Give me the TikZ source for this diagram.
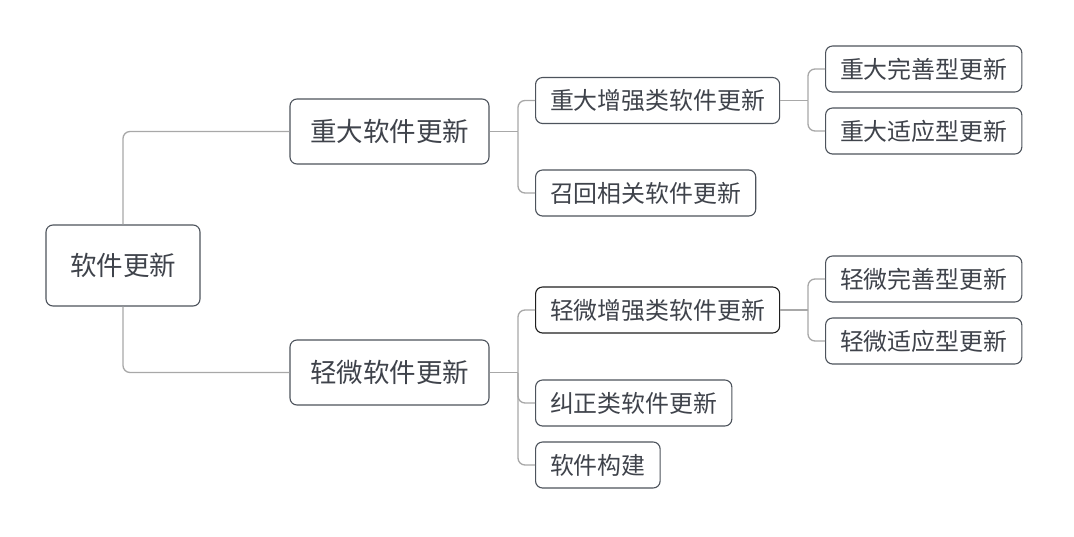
\documentclass[tikz,border=0pt]{standalone}
\usepackage{fontspec}
\setmainfont{Noto Sans CJK SC}
\definecolor{boxline}{HTML}{4D535C}
\definecolor{boxtext}{HTML}{3F434B}
\definecolor{linkgray}{HTML}{A8A8A8}
\tikzset{
	topic/.style={draw=boxline, line width=1.1pt, rounded corners=7pt, text=boxtext, align=center, inner sep=0pt},
	rootbox/.style={topic, minimum width=154pt, minimum height=81pt, font=\fontsize{26.5}{30}\selectfont},
	mainbox/.style={topic, minimum width=199pt, minimum height=65pt, font=\fontsize{26.5}{30}\selectfont},
	subbox/.style={topic, minimum height=46pt, inner xsep=14.5pt, font=\fontsize{23.9}{28}\selectfont},
	link/.style={draw=linkgray, line width=1.3pt, rounded corners=7pt}
}
\begin{document}
\begin{tikzpicture}[x=1pt, y=-1pt]
			% Canvas
			\useasboundingbox[fill=white] (0,0) rectangle (1074,536);
			\def\midx{518}
			\def\rightx{808}

			% Topics
			\node[rootbox] (root) at (123,265.5) {软件更新};
			\node[mainbox] (major) at (389.5,131.5) {重大软件更新};
			\node[mainbox] (minor) at (389.5,372.5) {轻微软件更新};

			\node[subbox, anchor=west] (majorEnh) at (535,100.5) {重大增强类软件更新};
			\node[subbox, anchor=west] (recall) at (535,193) {召回相关软件更新};
			\node[subbox, anchor=west] (majorPerf) at (825,69) {重大完善型更新};
			\node[subbox, anchor=west] (majorAdapt) at (825,131) {重大适应型更新};

			\node[subbox, anchor=west, draw=black!88] (minorEnh) at (535,310) {轻微增强类软件更新};
			\node[subbox, anchor=west] (fix) at (535,403) {纠正类软件更新};
			\node[subbox, anchor=west] (build) at (535,465) {软件构建};
			\node[subbox, anchor=west] (minorPerf) at (825,279) {轻微完善型更新};
			\node[subbox, anchor=west] (minorAdapt) at (825,341) {轻微适应型更新};

			% Junctions
			\coordinate (majorJ) at (\midx,131.5);
			\coordinate (minorJ) at (\midx,372.5);
			\coordinate (majorEnhJ) at (\rightx,100.5);
			\coordinate (minorEnhJ) at (\rightx,310);

			% Links
			\draw[link] (root.north) |- (major.west);
			\draw[link] (root.south) |- (minor.west);

			\draw[link] (major.east) -- (majorJ);
			\draw[link] (majorJ) |- (majorEnh.west);
			\draw[link] (majorJ) |- (recall.west);
			\draw[link] (majorEnh.east) -- (majorEnhJ);
			\draw[link] (majorEnhJ) |- (majorPerf.west);
			\draw[link] (majorEnhJ) |- (majorAdapt.west);

			\draw[link] (minor.east) -- (minorJ);
			\draw[link] (minorJ) |- (minorEnh.west);
			\draw[link] (minorJ) |- (fix.west);
			\draw[link] (minorJ) |- (build.west);
			\draw[link] (minorEnh.east) -- (minorEnhJ);
			\draw[link] (minorEnhJ) |- (minorPerf.west);
			\draw[link] (minorEnhJ) |- (minorAdapt.west);
		\end{tikzpicture}
\end{document}
